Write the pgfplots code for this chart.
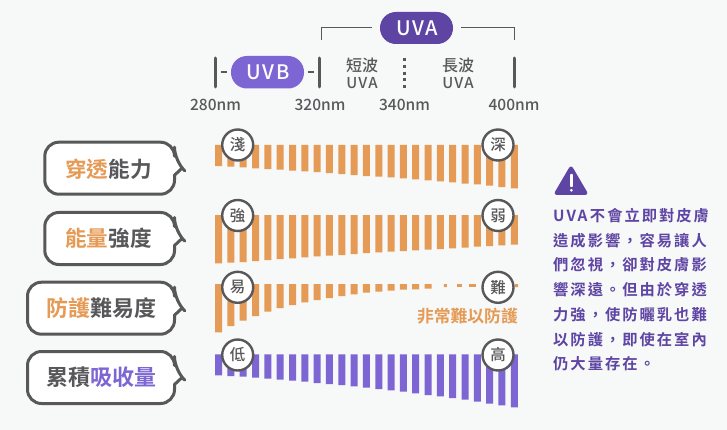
\documentclass[border=0pt]{standalone}
\usepackage{pgfplots}
\pgfplotsset{compat=1.18}
\usepackage{fontspec}
\setmainfont{Noto Sans CJK TC}
\newfontfamily\med{Noto Sans CJK TC Medium}
\newfontfamily\bld{Noto Sans CJK TC Bold}
\newfontfamily\medsp[LetterSpace=8]{Noto Sans CJK TC Medium}
\newfontfamily\para[LetterSpace=13]{Noto Sans CJK TC Bold}
\definecolor{bg}{HTML}{F7F8F8}
\definecolor{org}{HTML}{E59A55}
\definecolor{lav}{HTML}{7D66D4}
\definecolor{dpur}{HTML}{5E45A3}
\definecolor{gry}{HTML}{58585A}
\newcommand{\fs}[1]{\fontsize{#1pt}{#1pt}\selectfont}
\pgfplotsset{rowbars/.style={
  scale only axis, width=295.7pt, height=50pt, xmin=0, xmax=24, ymin=0, ymax=50,
  y dir=reverse, hide axis, clip=false, anchor=north west,
  ybar, bar width=7pt, bar shift=0pt}}
\begin{document}
\begin{tikzpicture}[x=1pt,y=-1pt]
\fill[bg] (0,0) rectangle (727,430);
\useasboundingbox (0,0) rectangle (727,430);
\begin{axis}[rowbars, at={(218.6pt,-145pt)}]
\addplot[draw=none, fill=org] coordinates {(0,21)(1,21.7)(2,22.3)(3,23.3)(4,24)(5,24.7)(6,25.7)(7,26.3)(8,27)(9,28)(10,29)(11,30)(12,31)(13,31.7)(14,32.3)(15,33.3)(16,34.3)(17,35.3)(18,36.3)(19,37.3)(20,38.7)(21,39.3)(22,40.7)(23,42)(24,43.3)};
\end{axis}
\begin{axis}[rowbars, at={(218.6pt,-215pt)}]
\addplot[draw=none, fill=org] coordinates {(0,48.3)(1,47.7)(2,47)(3,46)(4,45)(5,44)(6,43.3)(7,42.3)(8,41.3)(9,40.7)(10,40)(11,39)(12,38)(13,37.3)(14,36.7)(15,36)(16,35.3)(17,34.7)(18,34)(19,33.3)(20,32.7)(21,31.7)(22,31)(23,30.3)(24,29.7)};
\end{axis}
\begin{axis}[rowbars, at={(218.6pt,-284pt)}]
\addplot[draw=none, fill=org] coordinates {(0,48.3)(1,42)(2,36.7)(3,32)(4,27.7)(5,24)(6,21)(7,18.3)(8,16)(9,14)(10,12)(11,10.3)(12,8.7)(13,7.7)(14,6.7)(15,5.7)(16,5.3)(17,4.7)};
\addplot[draw=none, fill=org, bar width=3pt] coordinates {(18.4,3)(24.18,3)};
\addplot[draw=none, fill=org, bar width=4.7pt] coordinates {(19.54,3)};
\addplot[draw=none, fill=org, bar width=6.7pt] coordinates {(20.6,3)};
\end{axis}
\begin{axis}[rowbars, at={(218.6pt,-354.3pt)}]
\addplot[draw=none, fill=lav] coordinates {(0,21)(1,21.7)(2,22.3)(3,23.3)(4,24.3)(5,25.3)(6,26.3)(7,27.3)(8,28.7)(9,29.7)(10,30.7)(11,32)(12,33.3)(13,34.7)(14,36)(15,37.3)(16,39)(17,40.7)(18,42)(19,43.7)(20,45.3)(21,47.3)(22,49.3)(23,51)(24,53)};
\end{axis}
% top bracket
\draw[gry, line width=1pt] (321,40) -- (321,27.5) -- (372,27.5);
\draw[gry, line width=1pt] (461,27.5) -- (514,27.5) -- (514,40);
\fill[dpur, rounded corners=15.9pt] (380,12) rectangle (453,44);
\node[white, font=\medsp\fs{20}] at (417,28) {UVA};
% UVB
\fill[lav, rounded corners=15.9pt] (231,56) rectangle (304,88.5);
\node[white, font=\medsp\fs{20}] at (268,72) {UVB};
\draw[gry, line width=1.2pt] (221,72) -- (227,72);
\draw[gry, line width=1.2pt] (308,72) -- (314,72);
\foreach \x in {215.5,319.5,514}{\draw[gry, line width=3pt, line cap=round] (\x,58) -- (\x,87);}
\draw[gry, line width=2.1pt, dash pattern=on 3pt off 3.8pt] (404.5,58) -- (404.5,88);
\node[gry, font=\med\fs{16}] at (362,65) {短波};
\node[gry, font=\medsp\fs{15}] at (362,83) {UVA};
\node[gry, font=\med\fs{16}] at (458,65) {長波};
\node[gry, font=\medsp\fs{15}] at (458,83) {UVA};
\foreach \x/\t in {215.5/280nm,320/320nm,404.5/340nm,514/400nm}{\node[gry, font=\med\fs{15.5}] at (\x,105) {\t};}
% circles
\foreach \x/\y/\t in {237.7/145/淺,498/145/深,237.7/215.5/強,498/215.5/弱,237.7/287.3/易,498/287.3/難,237.7/355/低,498/355/高}{
\node[circle, draw=gry, line width=2.4pt, fill=white, minimum size=31pt, inner sep=0pt, text=gry, font=\med\fs{15.5}] at (\x,\y) {\t};}
\node[org, font=\bld\fs{16.8}, anchor=east, inner sep=0pt] at (518,316) {非常難以防護};
% bubbles
\newcommand{\bubble}[3]{% left, top, bottom
\pgfmathsetmacro\mid{(#2+#3)/2}
\draw[gry, line width=3pt, fill=white, line join=round]
 (#1,\mid) [rounded corners=14pt] -- (#1,#2) -- (174.5,#2) -- (174.5,\mid-7) [sharp corners] -- (182,\mid) -- (174.5,\mid+7) [rounded corners=14pt] -- (174.5,#3) -- (#1,#3) [sharp corners] -- cycle;}
\bubble{44.8}{142.2}{194.2}
\bubble{44.8}{212.5}{264.5}
\bubble{27.5}{282.2}{334.2}
\bubble{27.5}{351.5}{403.5}
\node[font=\bld\fs{21.6}] at (108.5,169) {\textcolor{org}{穿透}\textcolor{gry}{能力}};
\node[font=\bld\fs{21.6}] at (108.5,238.5) {\textcolor{org}{能量}\textcolor{gry}{強度}};
\node[font=\bld\fs{22}] at (101,308) {\textcolor{org}{防護}\textcolor{gry}{難易度}};
\node[font=\bld\fs{22}] at (101,377.5) {\textcolor{gry}{累積}\textcolor{lav}{吸收量}};
% warning
\fill[dpur, rounded corners=3pt, draw=dpur, line width=1pt, line join=round] (571,165.5) -- (588,194.5) -- (554,194.5) -- cycle;
\fill[white, rounded corners=0.8pt] (570,174) rectangle (572.8,187);
\fill[white] (571.4,190.3) circle (1.5);
\foreach \y/\t in {216/UVA\hspace{2.5pt}不會立即對皮膚,240.7/造成影響，容易讓人,265.2/們忽視，卻對皮膚影,290/響深遠。但由於穿透,314.6/力強，使防曬乳也難,339.2/以防護，即使在室內,363.5/仍大量存在。}{
\node[dpur, font=\para\fs{15.3}, anchor=west, inner sep=0pt] at (553,\y) {\t};}
\end{tikzpicture}
\end{document}
